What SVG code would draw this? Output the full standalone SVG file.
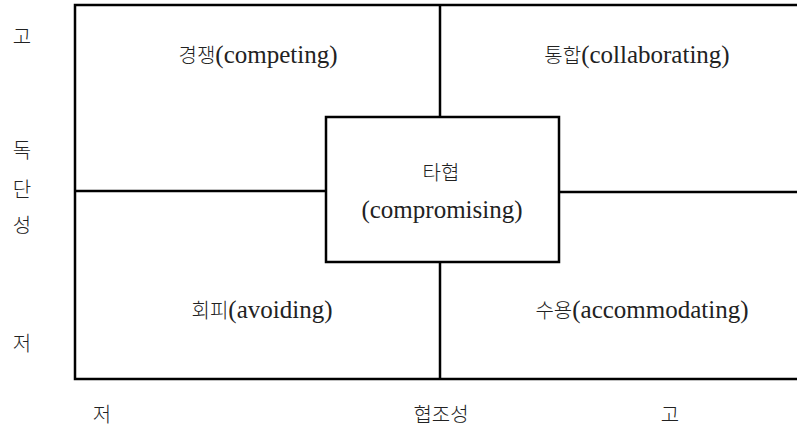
<svg xmlns="http://www.w3.org/2000/svg" width="797" height="427" viewBox="0 0 797 427">
<style>
.ln{stroke:#000;stroke-width:2.5;fill:none}
.t{font-size:25px;fill:#222;text-anchor:middle}
.k{font-size:20px;font-weight:300}
.ax{font-size:20px;font-weight:300;fill:#222;text-anchor:middle}
</style>
<rect width="797" height="427" fill="#fff"/>
<g id="connectors">
<polyline class="ln" points="800,5 75,5 75,379 800,379"/>
<line class="ln" x1="440" y1="5" x2="440" y2="117"/>
<line class="ln" x1="440" y1="262" x2="440" y2="379"/>
<line class="ln" x1="75" y1="191" x2="326" y2="191"/>
<line class="ln" x1="559" y1="192" x2="800" y2="192"/>
</g>
<g id="competing"><text class="t" font-family="Liberation Serif, DejaVu Serif, serif" x="258" y="63"><tspan class="k" font-family="Noto Sans CJK KR, sans-serif">경쟁</tspan>(competing)</text></g>
<g id="collaborating"><text class="t" font-family="Liberation Serif, DejaVu Serif, serif" x="637" y="63"><tspan class="k" font-family="Noto Sans CJK KR, sans-serif">통합</tspan>(collaborating)</text></g>
<g id="avoiding"><text class="t" font-family="Liberation Serif, DejaVu Serif, serif" x="262" y="318"><tspan class="k" font-family="Noto Sans CJK KR, sans-serif">회피</tspan>(avoiding)</text></g>
<g id="accommodating"><text class="t" font-family="Liberation Serif, DejaVu Serif, serif" x="642" y="318"><tspan class="k" font-family="Noto Sans CJK KR, sans-serif">수용</tspan>(accommodating)</text></g>
<g id="compromising">
<rect class="ln" x="326" y="117" width="233" height="145" fill="#fff"/>
<text class="ax" font-family="Noto Sans CJK KR, sans-serif" x="441" y="180">타협</text>
<text class="t" font-family="Liberation Serif, DejaVu Serif, serif" x="442" y="218">(compromising)</text>
</g>
<g id="axis-y" font-family="Noto Sans CJK KR, sans-serif">
<text class="ax" x="22" y="44">고</text>
<text class="ax" x="22" y="158">독</text>
<text class="ax" x="22" y="197">단</text>
<text class="ax" x="22" y="233">성</text>
<text class="ax" x="22" y="351">저</text>
</g>
<g id="axis-x" font-family="Noto Sans CJK KR, sans-serif">
<text class="ax" x="102" y="422">저</text>
<text class="ax" x="441" y="422">협조성</text>
<text class="ax" x="670" y="422">고</text>
</g>
</svg>
